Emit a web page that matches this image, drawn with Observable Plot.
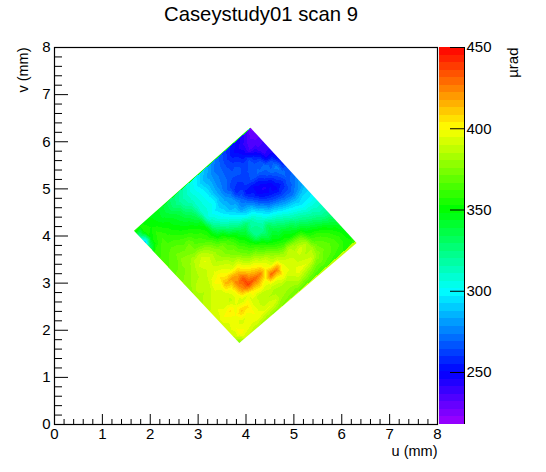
<!DOCTYPE html>
<html><head><meta charset="utf-8">
<script src="https://cdn.jsdelivr.net/npm/d3@7"></script>
<script src="https://cdn.jsdelivr.net/npm/@observablehq/plot@0.6"></script>
<style>html,body{margin:0;padding:0;background:#fff}#c{position:relative;width:546px;height:472px}#c svg{position:absolute;left:0;top:0}</style>
</head><body><div id="c"></div>
<script>
const titleText = "Caseystudy01 scan 9";
const uLabel = "u (mm)", vLabel = "v (mm)", zLabel = "µrad";
const majorTicks = [0,1,2,3,4,5,6,7,8];
const minorTicks = d3.range(0,40).map(d=>d/5).filter(d=>!Number.isInteger(d));
const zTicks = [250,300,350,400,450];
const zMin = 218, zMax = 450, bandCount = 50;
const paletteStops = [218,250,300,350,400,450];
const paletteColors = ["#a000ff","#0000ff","#00ffff","#00ff00","#ffff00","#ff0000"];
// diamond corners (mm): left, top, right, bottom
const cornerLeft = [1.66,4.11], cornerTop = [4.09,6.30], cornerRight = [6.31,3.85], cornerBottom = [3.86,1.73];
// µrad samples, each row runs parallel to the left-top edge, rows step toward the bottom corner
const values = [
[355,354,350,347,344,338,330,325,318,310,302,294,288,280,272,265,258,252,247,240,226],
[320,357,352,348,342,336,326,318,312,304,296,286,280,272,268,260,252,246,240,232,228],
[285,350,358,352,348,342,335,320,312,305,298,288,278,272,266,262,258,250,236,235,235],
[330,355,362,356,350,345,338,330,312,305,298,285,275,270,266,268,262,265,252,238,240],
[360,362,362,360,355,350,345,335,310,305,300,285,272,262,260,262,265,268,264,242,242],
[362,365,368,366,362,358,352,345,308,300,292,285,278,258,258,262,268,270,272,265,248],
[365,368,372,370,372,362,358,350,318,305,296,285,282,268,252,250,252,262,270,276,255],
[368,370,378,376,372,368,362,350,330,315,305,295,280,275,262,248,244,250,262,272,265],
[372,374,378,385,388,382,372,358,350,330,318,308,295,290,272,258,252,248,256,268,270],
[375,378,382,390,395,388,378,372,362,350,335,330,315,302,288,272,265,260,262,270,278],
[378,382,385,388,392,385,380,372,368,355,345,322,320,312,300,292,282,275,272,278,285],
[380,388,385,392,395,392,388,378,370,362,350,325,322,332,318,308,298,292,288,292,292],
[382,385,388,400,405,398,392,392,378,368,362,350,335,340,332,322,312,305,298,298,300],
[385,388,392,395,415,420,415,400,390,385,372,362,352,345,345,338,325,318,310,308,308],
[388,392,390,392,400,425,435,415,405,395,388,375,365,358,352,348,342,330,322,315,315],
[392,395,392,388,398,420,438,432,425,402,392,388,380,385,378,372,352,345,335,325,322],
[392,400,405,395,390,395,405,410,400,430,425,395,390,388,392,385,362,358,350,340,332],
[392,395,398,410,405,392,388,390,392,395,402,395,392,388,385,385,370,365,358,350,340],
[392,398,392,395,400,392,385,385,382,385,385,390,398,395,392,380,372,368,362,355,345],
[388,402,398,395,398,395,395,392,382,380,380,385,382,378,372,372,368,365,362,355,348],
[372,390,388,385,382,380,378,376,374,372,370,368,366,364,362,362,360,358,356,358,362]
];
const n = values.length - 1;
const samples = values.flatMap((row,j)=>row.map((value,i)=>({
  u: cornerLeft[0] + (cornerTop[0]-cornerLeft[0])*i/n + (cornerBottom[0]-cornerLeft[0])*j/n,
  v: cornerLeft[1] + (cornerTop[1]-cornerLeft[1])*i/n + (cornerBottom[1]-cornerLeft[1])*j/n,
  value
})));
const bandStep = (zMax-zMin)/bandCount;
const thresholds = d3.range(1,bandCount).map(k=>zMin+k*bandStep);
const paletteScale = d3.scaleLinear().domain(paletteStops).range(paletteColors).interpolate(d3.interpolateRgb);
const bands = d3.range(bandCount).map(k=>({lo:zMin+k*bandStep,hi:zMin+(k+1)*bandStep,color:paletteScale(zMin+(k+0.5)*bandStep)}));

const font = "'Liberation Sans',Arial,sans-serif";
const main = Plot.plot({
  width:546,height:472,marginLeft:54,marginRight:109,marginTop:47,marginBottom:48,
  style:{fontFamily:font,fontSize:"15px",color:"#000",background:"transparent"},
  x:{domain:[0,8]},y:{domain:[0,8]},
  color:{type:"threshold",domain:thresholds,range:bands.map(b=>b.color)},
  marks:[
    Plot.raster(samples,{x:"u",y:"v",fill:"value",interpolate:"barycentric",pixelSize:1,imageRendering:"pixelated"}),
    Plot.frame({stroke:"#000",strokeWidth:1.2}),
    Plot.ruleX(majorTicks,{insetTop:367,stroke:"#000"}),
    Plot.ruleX(minorTicks,{insetTop:372,stroke:"#000"}),
    Plot.ruleY(majorTicks,{insetRight:369,stroke:"#000"}),
    Plot.ruleY(minorTicks,{insetRight:375,stroke:"#000"}),
    Plot.axisX(majorTicks,{anchor:"bottom",tickSize:0,tickPadding:4,label:null,fontSize:15,color:"#000",tickFormat:d=>String(d)}),
    Plot.axisY(majorTicks,{anchor:"left",tickSize:0,tickPadding:4,label:null,fontSize:15,color:"#000",tickFormat:d=>String(d)}),
    Plot.text([titleText],{frameAnchor:"top",dx:15,dy:-41,fontSize:20.3,fill:"#000"}),
    Plot.text([uLabel],{frameAnchor:"bottom-right",dy:31,fontSize:14.5,textAnchor:"end",fill:"#000"}),
    Plot.text([vLabel],{frameAnchor:"top-left",dx:-37,rotate:-90,textAnchor:"end",fontSize:14.5,fill:"#000"})
  ]
});
// trim the raster to the diamond, positioned through the plot's own scales
const sx = main.scale("x"), sy = main.scale("y");
const img = main.querySelector("image");
if (img) {
  const x0 = Math.min(...sx.range), y0 = Math.min(...sy.range);
  const poly = [cornerLeft,cornerTop,cornerRight,cornerBottom].map(([u,v])=>`${sx.apply(u)-x0}px ${sy.apply(v)-y0}px`).join(",");
  img.style.clipPath = `polygon(${poly})`;
}
const bar = Plot.plot({
  width:546,height:472,marginLeft:439,marginRight:82,marginTop:47,marginBottom:48,
  style:{fontFamily:font,fontSize:"15px",color:"#000",background:"transparent"},
  x:{domain:[0,1],axis:null},y:{domain:[zMin,zMax]},
  marks:[
    Plot.rect(bands,{x1:0,x2:1,y1:"lo",y2:"hi",fill:d=>d.color,shapeRendering:"crispEdges"}),
    Plot.ruleX([1],{stroke:"#000"}),
    Plot.ruleY(zTicks,{insetLeft:11,stroke:"#000"}),
    Plot.axisY(zTicks,{anchor:"right",tickSize:0,tickPadding:2,label:null,fontSize:15,color:"#000",tickFormat:d=>String(d)}),
    Plot.text([zLabel],{frameAnchor:"top-right",dx:43,rotate:-90,textAnchor:"end",fontSize:15,fill:"#000"})
  ]
});
const c = document.getElementById("c");
c.append(main); c.append(bar);
</script></body></html>
